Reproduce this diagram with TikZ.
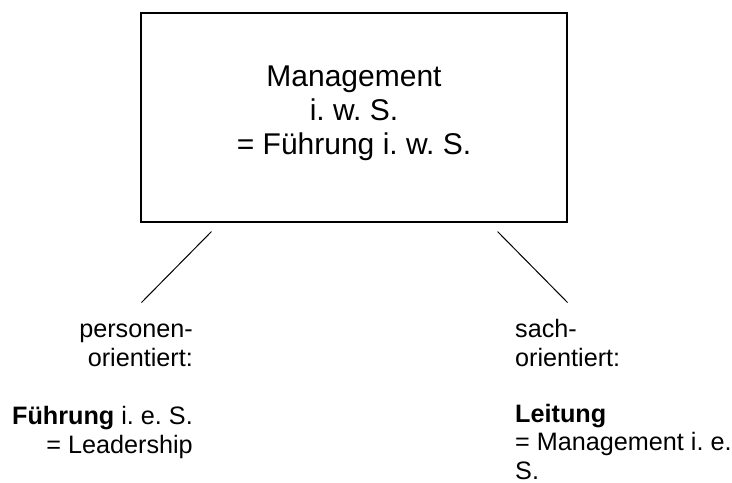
\documentclass[tikz,border=0pt]{standalone}
\usepackage{fontspec}
\setmainfont{Liberation Sans}
\frenchspacing
\begin{document}
\begin{tikzpicture}[x=1bp, y=-1bp, every node/.style={inner sep=0pt},
		bigtxt/.style={font=\fontsize{30bp}{34bp}\selectfont},
		smalltxt/.style={font=\fontsize{25.2bp}{28.5bp}\selectfont}]
				\useasboundingbox (0,0) rectangle (732,483);
				\node (mgmt) at (354,117.5) [draw, line width=1.2bp, minimum width=426bp, minimum height=209bp] {};
				\node (mgmttext) at (354,155) [anchor=base, align=center, bigtxt] {Management\\i. w. S.\\= Führung i. w. S.};
				\coordinate (lefttop) at ([shift={(71,9)}]mgmt.south west);
				\coordinate (leftend) at ([shift={(1,80)}]mgmt.south west);
				\coordinate (righttop) at ([shift={(-70,9)}]mgmt.south east);
				\coordinate (rightend) at ([shift={(0,80)}]mgmt.south east);
				\draw[line width=1bp] (lefttop) -- (leftend);
				\draw[line width=1bp] (righttop) -- (rightend);
				\node (pers) at (193,366) [anchor=base east, align=right, smalltxt] {personen-\\orientiert:};
				\node (fuehrung) at (193,453) [anchor=base east, align=right, smalltxt] {\textbf{Führung} i. e. S.\\= Leadership};
				\node (sach) at (515,366) [anchor=base west, align=left, smalltxt] {sach-\\orientiert:};
				\node (leitung) at (515,479) [anchor=base west, align=left, smalltxt] {\textbf{Leitung}\\= Management i. e.\\S.};
\end{tikzpicture}
\end{document}
